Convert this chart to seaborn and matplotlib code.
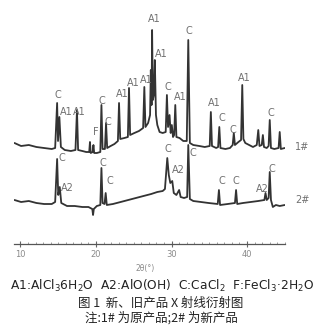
import numpy as np
import pandas as pd
import seaborn as sns
import matplotlib
matplotlib.use("Agg")
import matplotlib.pyplot as plt
from matplotlib.ticker import MultipleLocator

# ---------------- data ----------------
theta_1 = [9.2, 10.08, 11.10, 12.11, 13.12, 14.14, 14.59, 14.85, 14.97, 15.15, 15.35,
           15.86, 16.67, 17.28, 17.48, 17.63, 18.19, 18.70, 19.10, 19.20, 19.30, 19.56, 19.66,
           19.76, 20.11, 20.57, 20.72, 20.87, 21.18, 21.33, 21.48, 21.94, 22.44, 22.90, 23.05,
           23.21, 23.76, 24.22, 24.37, 24.52, 25.08, 25.69, 26.24, 26.40, 26.55, 26.90, 27.16,
           27.26, 27.36, 27.43, 27.53, 27.66, 27.79, 27.94, 28.12, 28.42, 28.83, 29.23, 29.39,
           29.54, 29.74, 29.89, 30.04, 30.20, 30.35, 30.50, 30.65, 31.06, 31.56, 32.02, 32.22,
           32.43, 32.88, 33.69, 34.40, 35.06, 35.21, 35.36, 35.92, 36.17, 36.33, 36.48, 37.14,
           37.74, 38.10, 38.25, 38.40, 38.86, 39.21, 39.37, 39.52, 39.77, 40.28, 40.79, 41.29,
           41.49, 41.65, 41.95, 42.10, 42.25, 42.61, 42.86, 43.01, 43.17, 43.62, 44.18, 44.33,
           44.48, 45.0]
inten_1 = [102, 99, 100, 98, 97, 96, 97, 142, 104, 128, 98,
           95, 94, 95, 135, 95, 94, 93, 93, 103, 92, 93, 100,
           92, 92, 93, 140, 96, 96, 122, 97, 99, 101, 104, 142,
           106, 107, 108, 157, 110, 112, 114, 117, 158, 118, 122, 130,
           175, 140, 215, 145, 150, 185, 130, 120, 113, 112, 113, 150,
           118, 130, 112, 120, 108, 110, 140, 108, 107, 104, 104, 205,
           102, 100, 99, 98, 99, 133, 99, 97, 98, 118, 97, 96,
           97, 100, 112, 100, 103, 105, 160, 106, 102, 100, 98, 100,
           115, 99, 100, 110, 98, 97, 99, 125, 97, 96, 97, 113,
           96, 97]

theta_2 = [9.2, 10.08, 11.10, 12.11, 13.12, 14.14, 14.59, 14.85, 15.00, 15.20, 15.40, 16.16,
           17.18, 18.19, 19.00, 19.51, 19.61, 19.71, 20.11, 20.57, 20.72, 20.87, 21.13, 21.28,
           21.43, 22.24, 23.26, 24.27, 25.28, 26.29, 27.31, 28.12, 28.83, 29.13, 29.44, 29.64,
           29.84, 30.10, 30.30, 30.65, 31.01, 31.21, 31.66, 32.07, 32.22, 32.43, 32.88, 33.90,
           34.91, 36.12, 36.28, 36.43, 37.44, 38.40, 38.55, 38.70, 39.47, 40.48, 41.49, 42.30,
           42.45, 42.61, 42.86, 43.01, 43.17, 43.42, 43.82, 44.33, 45.0]
inten_2 = [45, 43, 44, 42, 41, 41, 43, 86, 50, 58, 42, 39,
           39, 38, 38, 36, 30, 36, 39, 40, 77, 42, 41, 52,
           40, 41, 43, 45, 47, 49, 51, 53, 54, 56, 87, 70,
           62, 64, 52, 50, 55, 48, 47, 48, 100, 46, 44, 43,
           42, 41, 55, 40, 41, 42, 55, 41, 42, 43, 44, 45,
           52, 45, 47, 73, 45, 38, 40, 39, 40]

labels_1 = ["C", "A1", "A1", "F", "C", "C", "A1", "A1", "A1", "A1", "A1", "C", "A1", "C",
            "A1", "C", "C", "A1", "C"]
label_x_1 = [14.91, 16.06, 17.78, 19.91, 20.82, 21.58, 23.46, 24.98, 26.60, 27.68, 28.62,
             29.54, 31.16, 32.32, 35.62, 36.63, 38.15, 39.62, 43.17]
label_y_1 = [150, 133, 133, 113, 144, 123, 151, 162, 165, 226, 191, 158, 148, 214, 142, 127,
             115, 167, 132]

labels_2 = ["C", "A2", "C", "C", "C", "A2", "C", "C", "C", "A2", "C"]
label_x_2 = [15.50, 16.16, 20.92, 21.84, 29.54, 30.85, 32.83, 36.68, 38.55, 42.0, 43.32]
label_y_2 = [87, 57, 82, 64, 96, 75, 92, 64, 64, 56, 76]

series_names = ["1#", "2#"]
series_label_x = 47.28
series_label_y = [98, 45]

xticks = [10, 20, 30, 40]
legend_line = r"A1:AlCl$_3$6H$_2$O  A2:AlO(OH)  C:CaCl$_2$  F:FeCl$_3$·2H$_2$O"
caption_1 = "图 1  新、旧产品 X 射线衍射图"
caption_2 = "注:1# 为原产品;2# 为新产品"

# ---------------- figure ----------------
sns.set_style("white")
plt.rcParams["font.family"] = ["DejaVu Sans"]

W, H = 322, 331
fig = plt.figure(figsize=(W / 100, H / 100), dpi=100)
ax_left, ax_right, ax_bottom, ax_top = 14, 285, 244, 10
ax = fig.add_axes([ax_left / W, 1 - ax_bottom / H, (ax_right - ax_left) / W,
                   (ax_bottom - ax_top) / H])

df1 = pd.DataFrame({"theta": theta_1, "I": inten_1})
df2 = pd.DataFrame({"theta": theta_2, "I": inten_2})
line_color = "#333333"
sns.lineplot(data=df1, x="theta", y="I", ax=ax, color=line_color, lw=1.3,
             estimator=None, sort=False)
sns.lineplot(data=df2, x="theta", y="I", ax=ax, color=line_color, lw=1.3,
             estimator=None, sort=False)

ax.set_xlim(9.14, 45.03)
ax.set_ylim(1, 235)

txt_color = "#707070"
for t, x, y in zip(labels_1, label_x_1, label_y_1):
    ax.text(x, y, t, fontsize=7, color=txt_color, ha="center", va="center")
for t, x, y in zip(labels_2, label_x_2, label_y_2):
    ax.text(x, y, t, fontsize=7, color=txt_color, ha="center", va="center")
for name, y in zip(series_names, series_label_y):
    ax.text(series_label_x, y, name, fontsize=7, color=txt_color, ha="center",
            va="center", clip_on=False)

for s in ["top", "right", "left"]:
    ax.spines[s].set_visible(False)
ax.spines["bottom"].set_color("#555555")
ax.spines["bottom"].set_linewidth(0.9)
ax.set_yticks([])
ax.set_xticks(xticks)
ax.set_xticklabels([str(v) for v in xticks])
ax.xaxis.set_minor_locator(MultipleLocator(1))
ax.tick_params(axis="x", which="major", direction="inout", length=4, width=0.8,
               colors="#666666", labelsize=6, labelcolor="#8a8a8a", pad=2, bottom=True)
ax.tick_params(axis="x", which="minor", direction="in", length=1.5, width=0.5,
               colors="#777777", bottom=True)
ax.set_xlabel("")
ax.set_ylabel("")

fig.text(145 / W, 1 - 268 / H, "2θ(°)", fontsize=5.5, color="#8a8a8a",
         ha="center", va="center")
fig.text(162 / W, 1 - 286 / H, legend_line, fontsize=8.8, color="#222222",
         ha="center", va="center")
fig.text(161 / W, 1 - 303 / H, caption_1, fontsize=9.0, color="#222222",
         ha="center", va="center", family=["Noto Sans CJK SC", "DejaVu Sans"])
fig.text(161 / W, 1 - 318 / H, caption_2, fontsize=9.0, color="#222222",
         ha="center", va="center", family=["Noto Sans CJK SC", "DejaVu Sans"])

fig.savefig("out.png", dpi=100, facecolor="white")
